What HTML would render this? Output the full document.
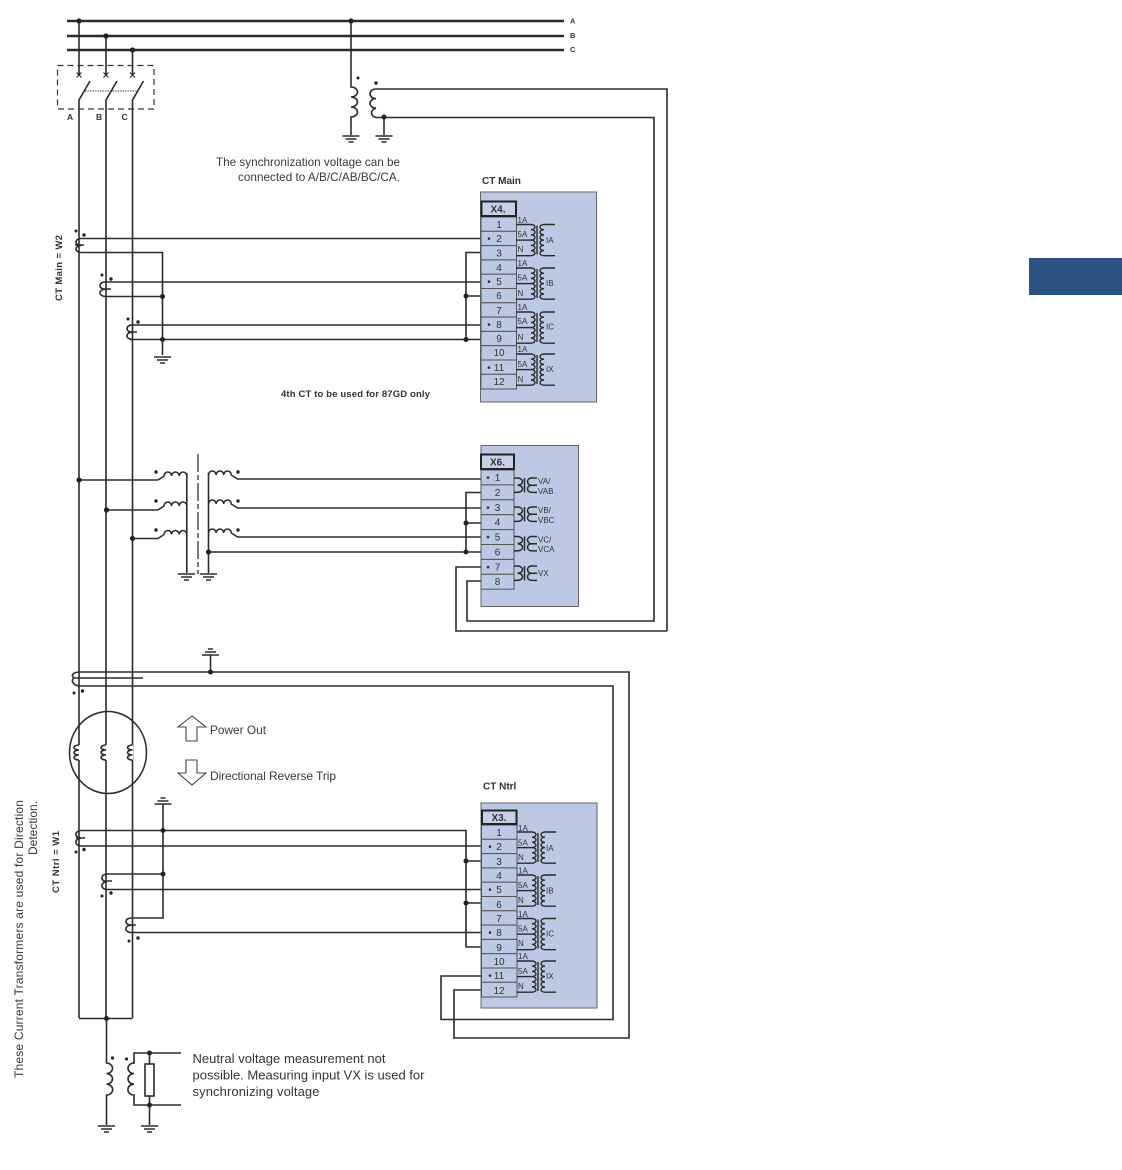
<!DOCTYPE html>
<html><head><meta charset="utf-8"><style>
html,body{margin:0;padding:0;background:#fff}
svg{display:block;position:absolute;left:0;top:0;stroke-width:1.6px}
text{font-family:"Liberation Sans",sans-serif;fill:#333}
.w{fill:none;stroke:#2b2b2b}
.t{font-size:10px;text-anchor:middle;fill:#3a3a3a}
.s{font-size:8px;fill:#333}
.b{font-weight:bold;fill:#333}
.m{font-size:12px;fill:#3a3a3a}
</style></head><body>
<svg width="1122" height="1170" viewBox="0 0 1122 1170" xmlns="http://www.w3.org/2000/svg">
<defs>
<g id="gnd" class="w" stroke-width="1.5"><path d="M-8.5 0H8.5M-5.5 3H5.5M-2.5 6H2.5"/></g>
<g id="x"><path d="M-2.5 -2.5L2.5 2.5M2.5 -2.5L-2.5 2.5" class="w" stroke-width="1.2"/></g>
<g id="ct" class="w" stroke-width="1.4">
<path d="M0 0H15a4 2.6 0 0 1 0 5.2a4 2.6 0 0 1 0 5.2a4 2.6 0 0 1 0 5.2a4 2.6 0 0 1 0 5.2a4 2.6 0 0 1 0 5.2a4 2.6 0 0 1 0 5.2H0"/>
<path d="M0 15.600H15"/>
<path d="M21 1V30"/>
<path d="M39 0H28a4 2.6 0 0 0 0 5.2a4 2.6 0 0 0 0 5.2a4 2.6 0 0 0 0 5.2a4 2.6 0 0 0 0 5.2a4 2.6 0 0 0 0 5.2a4 2.6 0 0 0 0 5.2H39"/>
</g>
<g id="vt" class="w" stroke-width="1.5">
<path d="M0 0H3.500a5 3.600 0 0 1 0 7.200a5 3.600 0 0 1 0 7.200H0"/>
<path d="M10.500 0V14.400"/>
<path d="M23 0H17.500a4 3.600 0 0 0 0 7.200a4 3.600 0 0 0 0 7.200H23M17.500 7.200H23"/>
</g>
<g id="pc"><path d="M0 0a5 2.500 0 0 0 0 5a5 2.500 0 0 0 0 5a5 2.500 0 0 0 0 5" class="w"/></g>
<g id="hc" class="w"><path d="M0 -4a3.800 4 0 0 1 7.600 0a3.800 4 0 0 1 7.600 0a3.800 4 0 0 1 7.600 0L29 0"/></g>
<g id="hc2" class="w"><path d="M0 0L6 -4a3.800 4 0 0 1 7.600 0a3.800 4 0 0 1 7.600 0a3.800 4 0 0 1 7.600 0"/></g>
</defs>

<rect x="1029" y="258" width="93" height="37" fill="#2b5082"/>

<!-- buses -->
<g class="w" stroke-width="2.4">
<path d="M67 21H564M67 36H564M67 50H564"/>
</g>
<g fill="#222">
<circle cx="79" cy="21" r="2.600"/><circle cx="106" cy="36" r="2.600"/><circle cx="132.500" cy="50" r="2.600"/><circle cx="351" cy="21" r="2.600"/>
</g>
<text x="570" y="23.500" class="b" font-size="7.500">A</text>
<text x="570" y="38" class="b" font-size="7.500">B</text>
<text x="570" y="52" class="b" font-size="7.500">C</text>

<!-- breaker -->
<rect x="57.500" y="65.500" width="96.500" height="43.500" fill="none" stroke="#333" stroke-width="1.200" stroke-dasharray="6 4"/>
<path class="w" d="M79 21V75M106 36V75M132.500 50V75"/>
<use href="#x" x="79" y="75"/><use href="#x" x="106" y="75"/><use href="#x" x="132.500" y="75"/>
<path class="w" d="M79 1018V100L90 81M106 1018V100L117 81M132.500 1018V100L143.500 81"/>
<path d="M85 91H138" stroke="#444" stroke-width="1" stroke-dasharray="1.500 1" fill="none"/>
<text x="67" y="120" class="b" font-size="8.500">A</text>
<text x="96" y="120" class="b" font-size="8.500">B</text>
<text x="121.500" y="120" class="b" font-size="8.500">C</text>

<!-- sync VT -->
<path class="w" d="M351 21V87a6.500 5 0 0 1 0 10a6.500 5 0 0 1 0 10a6.500 5 0 0 1 0 10V135"/>
<use href="#gnd" x="351" y="136"/>
<path class="w" d="M667 631V89H376a6 4.800 0 0 0 0 9.600a6 4.800 0 0 0 0 9.600a6 4.800 0 0 0 0 9.300H654V621H467V581H481"/>
<path class="w" d="M667 631H456V567H481"/>
<path class="w" d="M384 117V135"/><use href="#gnd" x="384" y="136"/>
<circle cx="384" cy="117" r="2.500" fill="#222"/>
<circle cx="358" cy="78" r="1.500" fill="#222"/><circle cx="376" cy="83" r="1.700" fill="#222"/>
<text x="216" y="166" class="m" textLength="184" lengthAdjust="spacingAndGlyphs">The synchronization voltage can be</text>
<text x="238" y="181" class="m" textLength="162" lengthAdjust="spacingAndGlyphs">connected to A/B/C/AB/BC/CA.</text>

<!-- CT main wiring -->
<g class="w">
<path d="M81 238.500H481M81 252.500H162.500V355M105 282H481M105 296.500H162.500M130 325H481M130 339.500H481"/>
<path d="M481 252.500H466V339.500M466 296H481"/>
<path d="M81 238.500a5 3.500 0 0 0 0 7a5 3.500 0 0 0 0 7M75 245H84"/>
<path d="M105 282a5 3.600 0 0 0 0 7.200a5 3.600 0 0 0 0 7.200M102 289H111"/>
<path d="M132 325a5 3.600 0 0 0 0 7.200a5 3.600 0 0 0 0 7.200M128 332H137"/>
</g>
<use href="#gnd" x="162.500" y="357"/>
<g fill="#222">
<circle cx="162.500" cy="296.500" r="2.500"/><circle cx="162.500" cy="339.500" r="2.500"/>
<circle cx="466" cy="296" r="2.500"/><circle cx="466" cy="339.500" r="2.500"/>
<circle cx="76" cy="231" r="1.500"/><circle cx="84" cy="235" r="1.700"/>
<circle cx="102" cy="275" r="1.500"/><circle cx="111" cy="279" r="1.700"/>
<circle cx="128" cy="319" r="1.500"/><circle cx="138" cy="322" r="1.700"/>
</g>
<text transform="translate(62,301) rotate(-90)" class="b" font-size="9.500" textLength="66" lengthAdjust="spacing">CT Main = W2</text>
<text x="281" y="397" class="b" font-size="9.500" textLength="149" lengthAdjust="spacing">4th CT to be used for 87GD only</text>

<!-- CT Main block -->
<text x="482" y="184" class="b" font-size="10">CT Main</text>
<rect x="480.500" y="192" width="116" height="210" fill="#bcc8e4" stroke="#666" stroke-width="1"/>
<g fill="#bcc8e4" stroke="#555" stroke-width="1">
<rect x="481" y="217" width="35.500" height="14.300"/><rect x="481" y="231.300" width="35.500" height="14.300"/><rect x="481" y="245.600" width="35.500" height="14.300"/><rect x="481" y="259.900" width="35.500" height="14.300"/><rect x="481" y="274.200" width="35.500" height="14.300"/><rect x="481" y="288.500" width="35.500" height="14.300"/><rect x="481" y="302.800" width="35.500" height="14.300"/><rect x="481" y="317.100" width="35.500" height="14.300"/><rect x="481" y="331.400" width="35.500" height="14.300"/><rect x="481" y="345.700" width="35.500" height="14.300"/><rect x="481" y="360" width="35.500" height="14.300"/><rect x="481" y="374.300" width="35.500" height="14.700"/>
</g>
<rect x="481.500" y="201.500" width="34.500" height="14.500" fill="#c6d0e8" stroke="#222" stroke-width="2"/>
<text x="498" y="212.500" class="b" font-size="10" text-anchor="middle" fill="#222">X4.</text>
<g class="t">
<text x="499" y="228">1</text><text x="499" y="242">2</text><text x="499" y="256.500">3</text><text x="499" y="271">4</text><text x="499" y="285">5</text><text x="499" y="299">6</text><text x="499" y="314">7</text><text x="499" y="328">8</text><text x="499" y="342">9</text><text x="499" y="356">10</text><text x="499" y="371">11</text><text x="499" y="385">12</text>
<text x="489" y="242">•</text><text x="489" y="285">•</text><text x="489" y="328">•</text><text x="489" y="371">•</text>
</g>
<use href="#ct" x="516" y="224.500"/><use href="#ct" x="516" y="268"/><use href="#ct" x="516" y="312"/><use href="#ct" x="516" y="354"/>
<g class="s">
<text x="517.500" y="223">1A</text><text x="517.500" y="237">5A</text><text x="517.500" y="252">N</text><text x="546" y="243">IA</text>
<text x="517.500" y="266">1A</text><text x="517.500" y="280.500">5A</text><text x="517.500" y="296">N</text><text x="546" y="286">IB</text>
<text x="517.500" y="310">1A</text><text x="517.500" y="324">5A</text><text x="517.500" y="340">N</text><text x="546" y="329.500">IC</text>
<text x="517.500" y="352">1A</text><text x="517.500" y="367">5A</text><text x="517.500" y="382">N</text><text x="546" y="372">IX</text>
</g>

<!-- VT -->
<g class="w">
<path d="M79 480H158M106 510H158M132.500 538.500H158"/>
<path d="M186.800 473V573"/>
<path d="M208.500 473V573"/>
<path d="M237 479H481M237 508H481M237 537H481M208.500 552H481"/>
<path d="M481 492.500H466V552M466 523H481"/>
</g>
<use href="#hc2" x="158" y="480"/><use href="#hc2" x="158" y="510"/><use href="#hc2" x="158" y="538.500"/>
<use href="#hc" x="208.500" y="479"/><use href="#hc" x="208.500" y="508"/><use href="#hc" x="208.500" y="537"/>
<path d="M198 454V574" stroke="#333" stroke-width="1.300" stroke-dasharray="18 3 5 3" fill="none"/>
<use href="#gnd" x="186.500" y="574"/><use href="#gnd" x="208.500" y="574"/>
<g fill="#222">
<circle cx="79" cy="480" r="2.600"/><circle cx="106.500" cy="510" r="2.600"/><circle cx="132.500" cy="538.500" r="2.600"/>
<circle cx="208.500" cy="552" r="2.600"/><circle cx="466" cy="523" r="2.500"/><circle cx="466" cy="552" r="2.500"/>
<circle cx="156" cy="472" r="1.700"/><circle cx="156" cy="501" r="1.700"/><circle cx="156" cy="530" r="1.700"/>
<circle cx="238" cy="472" r="1.700"/><circle cx="238" cy="501" r="1.700"/><circle cx="238" cy="530" r="1.700"/>
</g>

<!-- X6 block -->
<rect x="481" y="445.500" width="97.500" height="161" fill="#bcc8e4" stroke="#666" stroke-width="1"/>
<g fill="#bcc8e4" stroke="#555" stroke-width="1">
<rect x="481" y="470" width="33" height="14.900"/><rect x="481" y="484.900" width="33" height="14.900"/><rect x="481" y="499.800" width="33" height="14.900"/><rect x="481" y="514.700" width="33" height="14.900"/><rect x="481" y="529.600" width="33" height="14.900"/><rect x="481" y="544.500" width="33" height="14.900"/><rect x="481" y="559.400" width="33" height="14.900"/><rect x="481" y="574.300" width="33" height="14.900"/>
</g>
<rect x="481" y="454.500" width="33" height="14.500" fill="#c6d0e8" stroke="#222" stroke-width="2"/>
<text x="497.500" y="465.500" class="b" font-size="10" text-anchor="middle" fill="#222">X6.</text>
<g class="t">
<text x="497.500" y="481">1</text><text x="497.500" y="496">2</text><text x="497.500" y="511">3</text><text x="497.500" y="525.500">4</text><text x="497.500" y="540.500">5</text><text x="497.500" y="555.500">6</text><text x="497.500" y="570.500">7</text><text x="497.500" y="585">8</text>
<text x="488" y="481">•</text><text x="488" y="511">•</text><text x="488" y="540.500">•</text><text x="488" y="570.500">•</text>
</g>
<use href="#vt" x="514" y="478"/><use href="#vt" x="514" y="507"/><use href="#vt" x="514" y="536.500"/><use href="#vt" x="514" y="566"/>
<g class="s">
<text x="538" y="484">VA/</text><text x="538" y="494">VAB</text>
<text x="538" y="513">VB/</text><text x="538" y="523">VBC</text>
<text x="538" y="542.500">VC/</text><text x="538" y="552">VCA</text>
<text x="538" y="576">VX</text>
</g>

<!-- top of generator CT -->
<g class="w">
<path d="M80 672H629V1038H454V990H481"/>
<path d="M80 686H613V1019.500H441V976H481"/>
<path d="M80 672C74 672 70 675 74 678H143M74 678C70 681 74 686 80 686"/>
<path d="M210.500 672V655"/>
</g>
<g class="w" transform="translate(210.500,655) scale(1,-1)" stroke-width="1.500"><path d="M-8.500 0H8.500M-5.500 3H5.500M-2.500 6H2.500"/></g>
<circle cx="210.500" cy="672" r="2.500" fill="#222"/>
<circle cx="74" cy="693" r="1.500" fill="#222"/><circle cx="82.500" cy="691" r="1.700" fill="#222"/>

<!-- generator -->
<ellipse cx="108" cy="752.500" rx="38.500" ry="41" class="w"/>
<g fill="#fff" stroke="none"><rect x="74" y="745" width="6" height="15"/><rect x="101" y="745" width="6" height="15"/><rect x="127" y="745" width="6" height="15"/></g>
<use href="#pc" x="79" y="745"/><use href="#pc" x="106" y="745"/><use href="#pc" x="132.500" y="745"/>

<!-- arrows -->
<path d="M192 716L178 727H186V741H197V727H206Z" fill="#fff" stroke="#444" stroke-width="1.100"/>
<path d="M186 760H197V773H206L192 785L178 773H186Z" fill="#fff" stroke="#444" stroke-width="1.100"/>
<text x="210" y="734" class="m" textLength="56" lengthAdjust="spacingAndGlyphs">Power Out</text>
<text x="210" y="780" class="m" textLength="126" lengthAdjust="spacing">Directional Reverse Trip</text>

<!-- CT Ntrl wiring -->
<g class="w">
<path d="M81 830.500H466V947H481M81 846H481M81 830.500a5 3.800 0 0 0 0 7.700a5 3.800 0 0 0 0 7.800M76 838H85"/>
<path d="M107 874H163M107 889.500H481M107 874a5 3.800 0 0 0 0 7.700a5 3.800 0 0 0 0 7.800M103 881H112"/>
<path d="M131 918H163V804M131 932.500H481M131 918a5 3.600 0 0 0 0 7.200a5 3.600 0 0 0 0 7.300M128 925H136"/>
<path d="M466 861H481M466 903H481"/>
</g>
<g class="w" transform="translate(163,804) scale(1,-1)" stroke-width="1.500"><path d="M-8.500 0H8.500M-5.500 3H5.500M-2.500 6H2.500"/></g>
<g fill="#222">
<circle cx="163" cy="830.500" r="2.500"/><circle cx="163" cy="874" r="2.500"/>
<circle cx="466" cy="861" r="2.500"/><circle cx="466" cy="903" r="2.500"/>
<circle cx="76" cy="852" r="1.500"/><circle cx="84" cy="849.500" r="1.700"/>
<circle cx="102" cy="896" r="1.500"/><circle cx="111" cy="893" r="1.700"/>
<circle cx="129" cy="941" r="1.500"/><circle cx="138" cy="938" r="1.700"/>
</g>
<text transform="translate(59,893) rotate(-90)" class="b" font-size="9.500" textLength="62" lengthAdjust="spacing">CT Ntrl = W1</text>
<text transform="translate(23,1078) rotate(-90)" class="m" textLength="278" lengthAdjust="spacing">These Current Transformers are used for Direction</text>
<text transform="translate(37,855) rotate(-90)" class="m">Detection.</text>

<!-- X3 block -->
<text x="483" y="789.500" class="b" font-size="10">CT Ntrl</text>
<rect x="481" y="803" width="116" height="205" fill="#bcc8e4" stroke="#666" stroke-width="1"/>
<g fill="#bcc8e4" stroke="#555" stroke-width="1">
<rect x="481.500" y="825" width="35.500" height="14.300"/><rect x="481.500" y="839.300" width="35.500" height="14.300"/><rect x="481.500" y="853.600" width="35.500" height="14.300"/><rect x="481.500" y="867.900" width="35.500" height="14.300"/><rect x="481.500" y="882.200" width="35.500" height="14.300"/><rect x="481.500" y="896.500" width="35.500" height="14.300"/><rect x="481.500" y="910.800" width="35.500" height="14.300"/><rect x="481.500" y="925.100" width="35.500" height="14.300"/><rect x="481.500" y="939.400" width="35.500" height="14.300"/><rect x="481.500" y="953.700" width="35.500" height="14.300"/><rect x="481.500" y="968" width="35.500" height="14.300"/><rect x="481.500" y="982.300" width="35.500" height="14.700"/>
</g>
<rect x="482" y="810.500" width="34.500" height="13.500" fill="#c6d0e8" stroke="#222" stroke-width="2"/>
<text x="499" y="821" class="b" font-size="10" text-anchor="middle" fill="#222">X3.</text>
<g class="t">
<text x="499" y="836">1</text><text x="499" y="850">2</text><text x="499" y="865">3</text><text x="499" y="879">4</text><text x="499" y="893">5</text><text x="499" y="908">6</text><text x="499" y="922">7</text><text x="499" y="936">8</text><text x="499" y="951">9</text><text x="499" y="965">10</text><text x="499" y="979">11</text><text x="499" y="994">12</text>
<text x="490" y="850">•</text><text x="490" y="893">•</text><text x="490" y="936">•</text><text x="490" y="979">•</text>
</g>
<use href="#ct" x="517" y="832"/><use href="#ct" x="517" y="875"/><use href="#ct" x="517" y="918.500"/><use href="#ct" x="517" y="961"/>
<g class="s">
<text x="518" y="831">1A</text><text x="518" y="845.500">5A</text><text x="518" y="860">N</text><text x="546" y="851">IA</text>
<text x="518" y="873.500">1A</text><text x="518" y="888">5A</text><text x="518" y="903">N</text><text x="546" y="893.500">IB</text>
<text x="518" y="917">1A</text><text x="518" y="931.500">5A</text><text x="518" y="946">N</text><text x="546" y="936.500">IC</text>
<text x="518" y="959">1A</text><text x="518" y="974">5A</text><text x="518" y="989">N</text><text x="546" y="979">IX</text>
</g>

<!-- neutral -->
<g class="w">
<path d="M79 1018.500H132.500"/>
<path d="M106.500 1018V1063a6 5.300 0 0 1 0 10.600a6 5.300 0 0 1 0 10.600a6 5.300 0 0 1 0 10.800V1125"/>
<path d="M181 1053H134V1063a6 5.300 0 0 0 0 10.600a6 5.300 0 0 0 0 10.600a6 5.300 0 0 0 0 10.800V1105H181"/>
<path d="M149.500 1053V1064M149.500 1096V1125"/>
<rect x="145" y="1064" width="9" height="32" fill="#fff"/>
</g>
<use href="#gnd" x="106.500" y="1126"/><use href="#gnd" x="149.500" y="1126"/>
<g fill="#222">
<circle cx="106.500" cy="1018.500" r="2.500"/><circle cx="149.500" cy="1053" r="2.500"/><circle cx="149.500" cy="1105" r="2.500"/>
<circle cx="112.500" cy="1058" r="1.600"/><circle cx="126.500" cy="1059" r="1.600"/>
</g>
<text x="192.500" y="1063" font-size="13" fill="#3a3a3a" textLength="193" lengthAdjust="spacing">Neutral voltage measurement not</text>
<text x="192.500" y="1079.500" font-size="13" fill="#3a3a3a" textLength="232" lengthAdjust="spacing">possible. Measuring input VX is used for</text>
<text x="192.500" y="1096" font-size="13" fill="#3a3a3a" textLength="127" lengthAdjust="spacing">synchronizing voltage</text>
</svg>
</body></html>
